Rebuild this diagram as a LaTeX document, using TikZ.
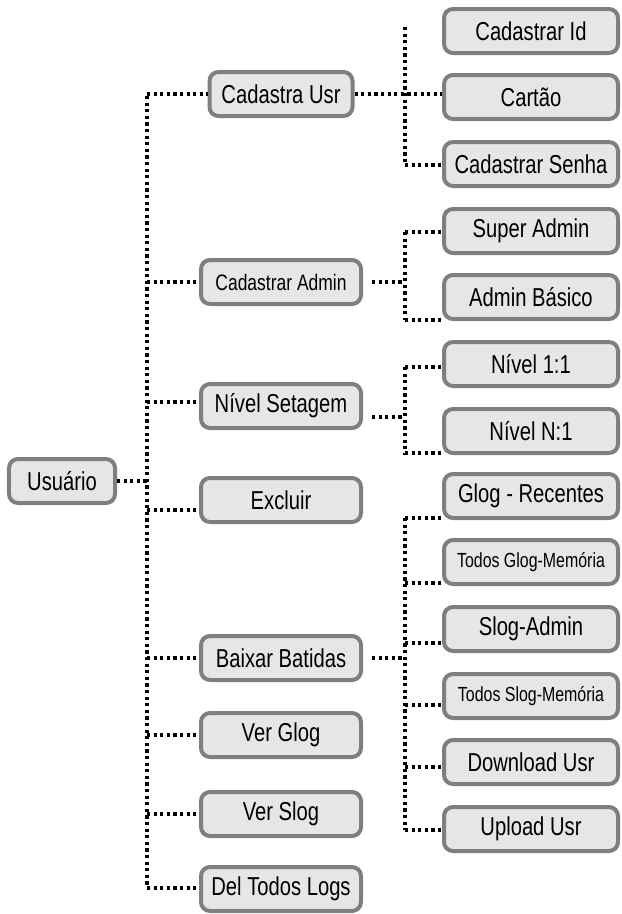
\documentclass[tikz,border=0pt]{standalone}
\usepackage{fontspec}
\setmainfont[FakeStretch=0.78]{Liberation Sans}
\usetikzlibrary{calc}
\definecolor{boxfill}{HTML}{E6E6E6}
\definecolor{boxline}{HTML}{7F7F7F}
\tikzset{
  box/.style={draw=boxline, fill=boxfill, line width=4bp, rounded corners=9bp,
    minimum width=160bp, minimum height=44bp, inner sep=0pt,
    font=\fontsize{26}{29}\selectfont},
  leaf/.style={box, minimum width=174bp},
  small/.style={font=\fontsize{22.5}{26}\selectfont},
  tiny/.style={font=\fontsize{20.5}{24}\selectfont},
  link/.style={line width=3.2bp, dash pattern=on 3.2bp off 3.4bp}
}

\begin{document}
\begin{tikzpicture}[x=1bp,y=-1bp]
		%%%%% START %%%%%
		\useasboundingbox (0,0) rectangle (622,914);
		
		\node[box, minimum width=106bp] (usr) at (62,481) {Usuário};
		
		\node[box, minimum width=143bp] (cu) at (281,94) {Cadastra Usr};
		\node[box, small] (ca) at (281,282) {Cadastrar Admin};
		\node[box] (ns) at (281,406) {Nível Setagem};
		\node[box] (ex) at (281,500) {Excluir};
		\node[box] (bb) at (281,658) {Baixar Batidas};
		\node[box] (vg) at (281,735) {Ver Glog};
		\node[box] (vs) at (281,814) {Ver Slog};
		\node[box] (dl) at (281,889) {Del Todos Logs};
		
		\node[leaf] (cid) at (531,31) {Cadastrar Id};
		\node[leaf] (ct) at (531,97) {Cartão};
		\node[leaf] (cs) at (531,164) {Cadastrar Senha};
		\node[leaf] (sa) at (531,231) {Super Admin};
		\node[leaf] (ab) at (531,297) {Admin Básico};
		\node[leaf] (n11) at (531,364) {Nível 1:1};
		\node[leaf] (nn1) at (531,431) {Nível N:1};
		\node[leaf] (gr) at (531,496) {Glog - Recentes};
		\node[leaf, tiny] (tg) at (531,562) {Todos Glog-Memória};
		\node[leaf] (sl) at (531,629) {Slog-Admin};
		\node[leaf, tiny] (ts) at (531,696) {Todos Slog-Memória};
		\node[leaf] (du) at (531,762) {Download Usr};
		\node[leaf] (uu) at (531,829) {Upload Usr};
		
		% tronco principal
		\draw[link] (147,96) -- (147,888);
		\draw[link] (usr.east) -- (147,481);
		\foreach \n/\y in {cu/94, ca/282, ns/402, ex/510, bb/658, vg/735, vs/814, dl/888}
			\draw[link] (147,\y) -- (\n.west |- 0,\y);
		
		% Cadastra Usr
		\draw[link] (405,27) -- (405,165);
		\draw[link] (cu.east) -- (ct.west |- cu.east);
		\draw[link] (405,165) -- (cs.west |- 0,165);
		
		% Cadastrar Admin
		\draw[link] ($(ca.east)+(9,0)$) -- (405,282);
		\draw[link] (405,232) -- (405,320);
		\foreach \n/\y in {sa/232, ab/320}
			\draw[link] (405,\y) -- (\n.west |- 0,\y);
		
		% Nivel Setagem
		\draw[link] ($(ns.east)+(9,11)$) -- (405,417);
		\draw[link] (405,367) -- (405,455);
		\foreach \n/\y in {n11/367, nn1/453}
			\draw[link] (405,\y) -- (\n.west |- 0,\y);
		
		% Baixar Batidas
		\draw[link] ($(bb.east)+(9,0)$) -- (405,658);
		\draw[link] (405,518) -- (405,830);
		\foreach \n/\y in {gr/518, tg/583, sl/643, ts/705, du/767, uu/830}
			\draw[link] (405,\y) -- (\n.west |- 0,\y);
		
		%%%%% END %%%%%
	\end{tikzpicture}
\end{document}
